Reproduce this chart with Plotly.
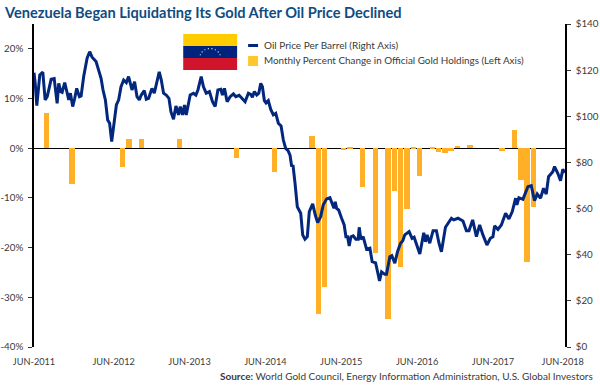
import math
import plotly.graph_objects as go

TITLE = "Venezuela Began Liquidating Its Gold After Oil Price Declined"
SOURCE = "<b>Source:</b> World Gold Council, Energy Information Administration, U.S. Global Investors"
OIL_NAME = "Oil Price Per Barrel (Right Axis)"
GOLD_NAME = "Monthly Percent Change in Official Gold Holdings (Left Axis)"

# Decimal years; 2011.5 is the JUN-2011 axis origin.
oil_time = [
 2011.50,2011.516,2011.537,2011.56,2011.576,2011.616,2011.647,2011.674,2011.704,2011.726,2011.766,2011.805,2011.826,2011.853,2011.871,2011.905,2011.928,2011.958,2011.98,
 2012.01,2012.037,2012.063,2012.099,2012.121,2012.155,2012.2,2012.234,2012.266,2012.318,2012.362,2012.384,2012.41,2012.441,2012.471,2012.497,2012.524,2012.55,2012.586,2012.616,2012.647,2012.682,2012.717,2012.747,2012.792,2012.826,2012.858,2012.888,2012.914,2012.954,2012.98,
 2013.011,2013.055,2013.086,2013.151,2013.178,2013.208,2013.243,2013.279,2013.305,2013.339,2013.371,2013.405,2013.428,2013.458,2013.484,2013.507,2013.559,2013.603,2013.634,2013.661,2013.704,2013.734,2013.77,2013.813,2013.853,2013.888,2013.924,2013.963,2013.984,
 2014.011,2014.046,2014.086,2014.129,2014.161,2014.204,2014.247,2014.283,2014.326,2014.358,2014.379,2014.405,2014.437,2014.463,2014.489,2014.511,2014.537,2014.559,2014.589,2014.621,2014.655,2014.687,2014.721,2014.757,2014.787,2014.818,2014.849,2014.875,2014.897,2014.914,2014.941,2014.971,
 2015.016,2015.042,2015.072,2015.103,2015.129,2015.174,2015.208,2015.239,2015.279,2015.313,2015.358,2015.401,2015.454,2015.471,2015.489,2015.516,2015.555,2015.589,2015.612,2015.634,2015.655,2015.678,2015.708,2015.743,2015.774,2015.787,2015.809,2015.839,2015.884,2015.928,2015.958,
 2016.003,2016.029,2016.055,2016.082,2016.125,2016.147,2016.191,2016.217,2016.257,2016.292,2016.332,2016.362,2016.388,2016.445,2016.484,2016.511,2016.542,2016.586,2016.638,2016.661,2016.682,2016.717,2016.761,2016.805,2016.839,2016.871,2016.924,
 2017.003,2017.033,2017.089,2017.155,2017.2,2017.234,2017.283,2017.332,2017.375,2017.418,2017.471,2017.516,2017.55,2017.572,2017.616,2017.661,2017.717,2017.761,2017.805,2017.849,2017.866,2017.892,2017.945,
 2018.011,2018.055,2018.099,2018.134,2018.178,2018.217,2018.253,2018.283,2018.339,2018.362,2018.405,2018.441,2018.471,2018.5,
]
oil_price = [
 118.9,114.3,104.6,114.3,117.9,119.1,107.1,108.5,112.8,116,116.3,105.6,114.3,110.7,110.4,114.6,111.4,107.1,110,
 104.2,107.8,112.1,108.5,108.8,117.2,125.2,128,125.6,123.7,118.6,116.5,111.4,107.1,98.4,97,89,95.5,104.9,107.1,112.8,115.7,114.6,117.2,111.4,115,108.5,107.1,109.2,111.1,107.4,
 107.8,112.1,110,119.3,115.7,110,109.2,107.8,102,98.7,104.5,100.6,104.2,100.6,104.9,100.6,109.2,110,109.2,111.4,117.2,112.8,110,110.7,106.3,104.2,111.4,111.7,109.2,
 112.1,106.3,108.5,109.7,108.5,109.1,107.4,106.3,110,109.5,108.2,110.7,109.2,110,114.3,112.8,106.8,105.8,106.8,103,100.6,101.3,97,95.8,89.7,86.1,85.1,83.2,78.2,78.9,71,60.8,
 58,48.6,46.7,47.8,58.7,62,57.2,53.9,56.5,61.6,64.2,64.7,60.1,62.9,60.1,59.4,55.8,52.9,47.8,47.8,43.8,47.8,48.2,46.7,46.7,51.9,46.7,47.8,42.4,42.8,37,
 36.5,32.6,28.6,32.6,31.5,31.5,39.1,39.6,36.3,41.3,45,46.1,48.6,50,47.1,47.6,44.2,40.3,49.5,45.6,48.6,45,50.4,50.4,45,41.3,51.9,
 55.8,55.1,55.8,54.6,50.4,50.4,55.1,47.8,52.9,48.6,44.2,47.1,47.8,52.5,51,52.9,58,55.5,58.7,64.5,61.6,64.7,64,
 69.5,69.9,63.4,66.3,64.5,68.8,66.3,73.8,76,78.2,75.3,72.1,77,75.6,
]

gold_time = [2011.667,2012.0,2012.667,2012.75,2012.917,2013.417,2014.167,2014.667,2015.167,2015.25,2015.333,2015.583,2015.667,2015.833,2016.0,2016.167,2016.25,2016.333,2016.417,2016.5,2016.583,2016.75,2016.833,2016.917,2017.0,2017.083,2017.25,2017.667,2017.833,2017.917,2018.0,2018.083]
gold_change = [7.1,-7.2,-3.8,1.8,1.8,1.8,-2.0,-4.8,2.4,-33.4,-28.0,-0.3,0.1,-7.8,-21.0,-34.4,-8.6,-24.0,-12.3,0.1,-5.6,0.05,-0.7,-0.9,-0.5,0.5,0.7,-0.5,3.7,-6.4,-22.8,-11.9]

x_tick_pos = [2011.5,2012.55,2013.55,2014.55,2015.55,2016.55,2017.55,2018.47]
x_tick_text = ["JUN-2011","JUN-2012","JUN-2013","JUN-2014","JUN-2015","JUN-2016","JUN-2017","JUN-2018"]
left_ticks = [-40,-30,-20,-10,0,10,20]
left_text = ["-40%","-30%","-20%","-10%","0%","10%","20%"]
right_ticks = [0,20,40,60,80,100,120,140]
right_text = ["$0","$20","$40","$60","$80","$100","$120","$140"]

W, H = 600, 386
L, R, T, B = 33.5, 565.5, 24, 347
px = lambda v: (v - L) / (R - L)
py = lambda v: (B - v) / (B - T)
LABEL = "#3a3a3a"
FONT = "Lato"
TICK_SIZE = 9.8

fig = go.Figure()
fig.add_trace(go.Bar(x=gold_time, y=gold_change, name=GOLD_NAME, marker_color="#FFB027",
                     marker_line_width=0, width=0.072, yaxis="y", showlegend=False))
fig.add_trace(go.Scatter(x=oil_time, y=oil_price, name=OIL_NAME, mode="lines", yaxis="y2",
                         line=dict(color="#03277C", width=3), showlegend=False))

shapes = []
def rect(x0, y0, x1, y1, color):
    shapes.append(dict(type="rect", xref="paper", yref="paper", x0=px(x0), x1=px(x1), y0=py(y0), y1=py(y1),
                       fillcolor=color, line_width=0, layer="above"))
rect(183, 34, 237, 46, "#FFCC00")
rect(183, 46, 237, 58, "#00247D")
rect(183, 58, 237, 70, "#CF142B")
for i in range(8):
    a = math.radians(160 - i * 20)
    cx, cy = 210 + 10.5 * math.cos(a), 58 - 9.5 * math.sin(a)
    shapes.append(dict(type="circle", xref="paper", yref="paper", x0=px(cx - .6), x1=px(cx + .6),
                       y0=py(cy + .6), y1=py(cy - .6), fillcolor="white", line_width=0, layer="above"))
shapes.append(dict(type="line", xref="paper", yref="paper", x0=px(248), x1=px(258), y0=py(45.5), y1=py(45.5),
                   line=dict(color="#03277C", width=3), layer="above"))
rect(248, 56, 258, 66, "#FFC72C")

def note(text, x, y, anchor="left", size=10, color=LABEL, family=FONT):
    return dict(text=text, xref="paper", yref="paper", x=px(x), y=py(y), xanchor=anchor, yanchor="middle",
                showarrow=False, font=dict(size=size, color=color, family=family), xshift=0)

annotations = [
    note(OIL_NAME, 262, 45),
    note(GOLD_NAME, 262, 60.5, size=9.9),
    note(SOURCE, 596, 376, "right"),
]

fig.update_layout(
    width=W, height=H, autosize=False,
    margin=dict(l=L, r=W - R, t=T, b=H - B, pad=0),
    paper_bgcolor="white", plot_bgcolor="white",
    title=dict(text=f"<b>{TITLE}</b>", x=5 / W, xanchor="left", xref="container", y=1 - 12.5 / H, yanchor="middle",
               font=dict(family=FONT, size=14.6, color="#0F4C81")),
    font=dict(family=FONT, size=TICK_SIZE, color=LABEL),
    bargap=0, shapes=shapes, annotations=annotations,
    xaxis=dict(range=[2011.5, 2018.5], tickmode="array", tickvals=x_tick_pos, ticktext=x_tick_text, automargin=False,
               showgrid=False, zeroline=False, showline=False, ticks="", tickangle=0, ticklabelstandoff=8,
               tickfont=dict(size=9.2)),
    yaxis=dict(range=[-40, 25], tickmode="array", tickvals=left_ticks, ticktext=left_text, showgrid=False, automargin=False,
               zeroline=True, zerolinecolor="black", zerolinewidth=1.3, ticklabelstandoff=3,
               showline=True, linecolor="black", linewidth=1.5, ticks="outside", ticklen=4, tickcolor="#333", tickwidth=1),
    yaxis2=dict(range=[0, 140], overlaying="y", side="right", tickmode="array", tickvals=right_ticks, automargin=False,
                ticktext=right_text, showgrid=False, zeroline=False, ticklabelstandoff=3,
                showline=True, linecolor="black", linewidth=1.5, ticks="outside", ticklen=4, tickcolor="#333", tickwidth=1),
)
fig.write_html("out.html", config={"displayModeBar": False},
               post_script="document.body.style.margin='0';document.body.style.padding='0';")
